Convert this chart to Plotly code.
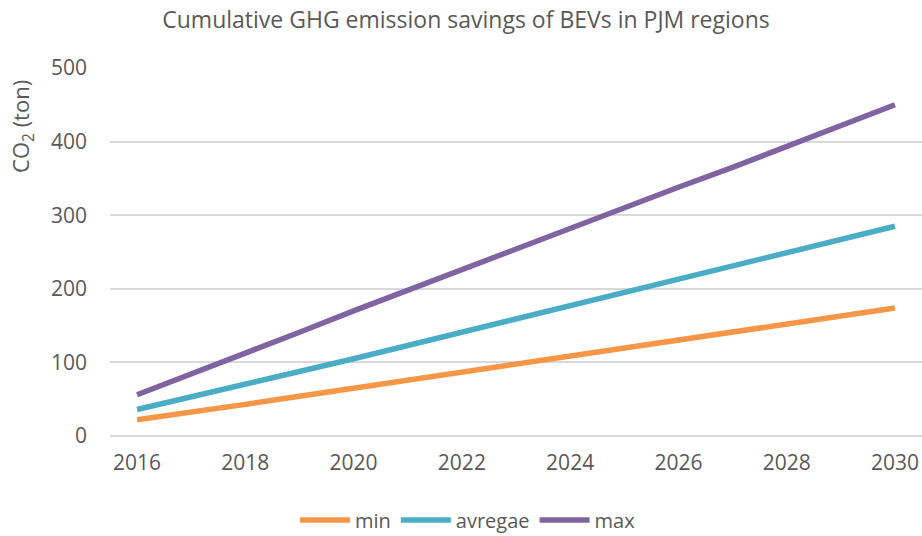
import plotly.graph_objects as go

# Data
years = list(range(2016, 2031))
min_values = [22, 32, 43, 54, 65, 76, 87, 98, 109, 119, 130, 141, 152, 163, 174]
average_values = [36, 53, 70, 87, 105, 123, 141, 159, 177, 195, 213, 231, 249, 267, 285]
max_values = [56, 84, 113, 141, 170, 198, 226, 254, 283, 310, 338, 365, 394, 422, 450]

series_names = ["min", "avregae", "max"]
series_values = [min_values, average_values, max_values]
series_colors = ["#F79646", "#4BACC6", "#8064A2"]

x_ticks = list(range(2016, 2031, 2))
y_ticks = [0, 100, 200, 300, 400, 500]

font_family = "Open Sans, Liberation Sans, sans-serif"
text_grey = "#595959"

W, H = 922, 536

fig = go.Figure()

# En linje per serie
for name, values, color in zip(series_names, series_values, series_colors):
    fig.add_trace(go.Scatter(
        x=years,
        y=values,
        mode="lines",
        name=name,
        line=dict(color=color, width=5.5),
    ))

fig.update_layout(
    width=W,
    height=H,
    paper_bgcolor="white",
    plot_bgcolor="white",
    margin=dict(l=110, r=0, t=68, b=100, autoexpand=False),
    font=dict(family=font_family, color=text_grey, size=21),
    title=dict(
        text="Cumulative GHG emission savings of BEVs in PJM regions",
        x=466 / W, xanchor="center", xref="container",
        y=1 - 20 / H, yanchor="middle", yref="container",
        font=dict(size=23, color=text_grey),
    ),
    showlegend=True,
    legend=dict(
        orientation="h",
        x=468 / W, xanchor="center", xref="container",
        y=(H - 520) / H, yanchor="middle", yref="container",
        font=dict(size=20, color=text_grey),
        itemwidth=50,
    ),
    xaxis=dict(
        range=[2015.5, 2030.5],
        tickvals=x_ticks,
        showgrid=False,
        zeroline=False,
        showline=False,
        ticks="",
        ticklabelstandoff=12,
        automargin=False,
        tickfont=dict(size=21, color=text_grey),
    ),
    yaxis=dict(
        range=[0, 500],
        tickvals=y_ticks,
        showgrid=True,
        gridcolor="#D9D9D9",
        gridwidth=1.5,
        zeroline=True,
        zerolinecolor="#D9D9D9",
        zerolinewidth=1.5,
        ticks="",
        ticklabelstandoff=22,
        automargin=False,
        tickfont=dict(size=21, color=text_grey),
    ),
)

# Y-axeltitel överst till vänster, som i originalet
fig.add_annotation(
    text="CO<sub>2</sub> (ton)",
    xref="paper", yref="paper",
    x=-88 / 812, y=0.84,
    xanchor="center", yanchor="middle",
    textangle=-90,
    showarrow=False,
    font=dict(size=22, color=text_grey),
)

# Ta bort sidans standardmarginal så att figuren fyller fönstret exakt
fig.write_html(
    "out.html",
    config={"displayModeBar": False},
    post_script="document.body.style.margin='0';document.body.style.overflow='hidden';",
)
